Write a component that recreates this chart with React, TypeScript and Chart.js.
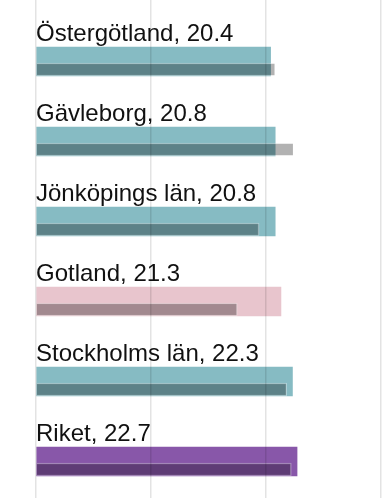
import React, { useEffect, useRef } from "react";
import { Chart, registerables } from "chart.js";

Chart.register(...registerables);

const categories = ["Östergötland", "Gävleborg", "Jönköpings län", "Gotland", "Stockholms län", "Riket"];
const values = [20.4, 20.8, 20.8, 21.3, 22.3, 22.7];
const compareValues = [20.8, 22.4, 19.4, 17.5, 21.8, 22.2];
const barColors = ["#86bbc3", "#86bbc3", "#86bbc3", "#e8c5cd", "#86bbc3", "#8857a9"];
const xTicks = [0, 10, 20, 30];

const labelPlugin = {
  id: "rowLabels",
  afterDatasetsDraw(chart: any) {
    const { ctx, scales } = chart;
    const xs = scales.x;
    const ys = scales.y;
    ctx.save();
    ctx.font = '24px "Liberation Sans", Arial, sans-serif';
    ctx.fillStyle = "#111";
    ctx.textAlign = "left";
    ctx.textBaseline = "alphabetic";
    categories.forEach((c, i) => {
      const y = ys.getPixelForValue(i) - 20.5;
      const x = xs.getPixelForValue(xTicks[0]);
      ctx.fillText(`${c}, ${values[i]}`, x, y);
    });
    ctx.restore();
  },
};

export default function App() {
  const ref = useRef<HTMLCanvasElement>(null);
  useEffect(() => {
    document.body.style.margin = "0";
    const chart = new Chart(ref.current!, {
      type: "bar",
      data: {
        datasets: [
          {
            label: "compare",
            data: compareValues.map((v, i) => ({ x: v, y: i + 0.1 })),
            backgroundColor: "rgba(0,0,0,0.3)",
            borderColor: "rgba(255,255,255,0.35)",
            borderWidth: 1,
            borderSkipped: "start",
            barThickness: 13,
            grouped: false,
            order: 1,
          } as any,
          {
            label: "value",
            data: values.map((v, i) => ({ x: v, y: i })),
            backgroundColor: barColors,
            borderWidth: 0,
            barThickness: 29,
            grouped: false,
            order: 2,
          } as any,
        ],
      },
      options: {
        indexAxis: "y",
        animation: false,
        responsive: true,
        maintainAspectRatio: false,
        layout: { padding: { left: 36, right: 5, top: 0, bottom: 0 } },
        plugins: { legend: { display: false }, tooltip: { enabled: false } },
        scales: {
          x: {
            type: "linear",
            position: "top",
            min: xTicks[0],
            max: xTicks[xTicks.length - 1],
            afterBuildTicks: (s: any) => {
              s.ticks = xTicks.map((v) => ({ value: v }));
            },
            ticks: { display: false },
            grid: { color: "rgba(0,0,0,0.11)", lineWidth: 1.5, drawTicks: false, z: 1 },
            border: { display: false },
          },
          y: {
            type: "linear",
            reverse: true,
            offset: false,
            min: -0.76875,
            max: 5.45625,
            display: false,
            grid: { display: false },
          },
        },
      } as any,
      plugins: [labelPlugin],
    });
    return () => chart.destroy();
  }, []);
  return (
    <div style={{ width: 386, height: 498, position: "relative" }}>
      <canvas ref={ref} />
    </div>
  );
}
